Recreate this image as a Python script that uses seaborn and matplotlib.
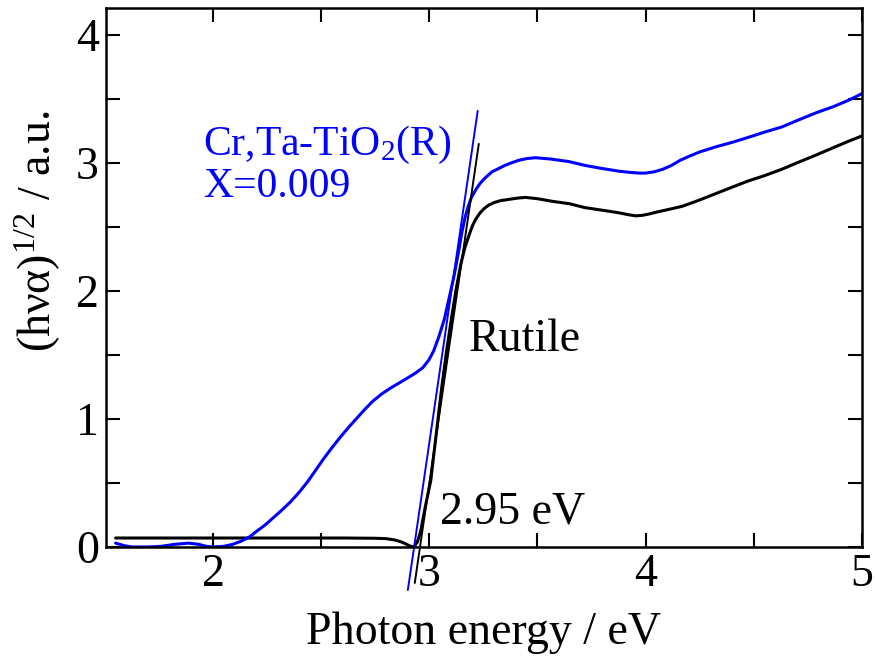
import matplotlib
matplotlib.use("Agg")
import matplotlib.pyplot as plt
import seaborn as sns
import pandas as pd

# ---- data ----
rutile_x = [1.55, 1.8, 2.0, 2.2, 2.4, 2.6, 2.75, 2.80, 2.84, 2.87, 2.89, 2.905, 2.918, 2.93,
            2.945, 2.96, 2.98, 3.007, 3.03, 3.058, 3.08, 3.104, 3.125, 3.146, 3.165, 3.185,
            3.2, 3.215, 3.235, 3.255, 3.275, 3.30, 3.33, 3.37, 3.41, 3.446, 3.5, 3.567,
            3.65, 3.72, 3.8, 3.876, 3.92, 3.955, 3.985, 4.015, 4.05, 4.09, 4.13, 4.168,
            4.21, 4.25, 4.325, 4.4, 4.477, 4.55, 4.63, 4.7, 4.787, 4.87, 4.94, 5.0]
rutile_y = [0.07, 0.07, 0.07, 0.07, 0.07, 0.07, 0.068, 0.065, 0.055, 0.04, 0.025, 0.012,
            0.003, 0.0, 0.04, 0.12, 0.3, 0.52, 0.85, 1.25, 1.53, 1.80, 2.02, 2.21, 2.34,
            2.44, 2.51, 2.56, 2.61, 2.645, 2.67, 2.69, 2.705, 2.715, 2.725, 2.73, 2.72, 2.70,
            2.68, 2.65, 2.63, 2.61, 2.595, 2.586, 2.59, 2.60, 2.615, 2.63, 2.645, 2.66,
            2.685, 2.71, 2.76, 2.81, 2.86, 2.90, 2.95, 3.00, 3.06, 3.12, 3.17, 3.21]

crta_x = [1.55, 1.59, 1.625, 1.70, 1.76, 1.82, 1.888, 1.935, 1.97, 2.0, 2.05, 2.09, 2.13,
          2.17, 2.20, 2.24, 2.28, 2.32, 2.36, 2.40, 2.44, 2.475, 2.51, 2.55, 2.59, 2.63,
          2.67, 2.705, 2.74, 2.78, 2.82, 2.86, 2.90, 2.938, 2.97, 2.998, 3.02, 3.044, 3.07,
          3.09, 3.115, 3.137, 3.15, 3.165, 3.18, 3.195, 3.215, 3.235, 3.26, 3.29, 3.32,
          3.35, 3.38, 3.414, 3.45, 3.49, 3.56, 3.645, 3.72, 3.784, 3.876, 3.93, 3.97, 4.0,
          4.04, 4.08, 4.12, 4.16, 4.2, 4.25, 4.325, 4.4, 4.477, 4.55, 4.63, 4.7, 4.787,
          4.87, 4.94, 5.0]
crta_y = [0.03, 0.01, 0.0, 0.0, 0.005, 0.02, 0.03, 0.02, 0.005, 0.0, 0.005, 0.02, 0.045,
          0.08, 0.12, 0.17, 0.23, 0.29, 0.355, 0.43, 0.515, 0.60, 0.685, 0.775, 0.86, 0.94,
          1.015, 1.08, 1.14, 1.195, 1.24, 1.28, 1.32, 1.36, 1.40, 1.46, 1.53, 1.64, 1.78,
          1.93, 2.12, 2.32, 2.45, 2.57, 2.66, 2.73, 2.79, 2.84, 2.885, 2.93, 2.955, 2.98,
          3.0, 3.02, 3.033, 3.04, 3.03, 3.01, 2.98, 2.96, 2.935, 2.925, 2.92, 2.92, 2.93,
          2.95, 2.98, 3.02, 3.05, 3.085, 3.125, 3.16, 3.20, 3.24, 3.28, 3.33, 3.39, 3.44,
          3.49, 3.54]

# tangent (Tauc) lines
rutile_tan_x = [2.933, 3.229]
rutile_tan_y = [-0.281, 3.148]
crta_tan_x = [2.901, 3.224]
crta_tan_y = [-0.336, 3.406]

x_ticks = [2, 3, 4, 5]
y_ticks = [0, 1, 2, 3, 4]

# ---- style ----
sns.set_style("ticks")
plt.rcParams['font.family'] = ['Liberation Serif', 'DejaVu Serif']
plt.rcParams['mathtext.fontset'] = 'custom'
plt.rcParams['mathtext.rm'] = 'Liberation Serif'
plt.rcParams['mathtext.it'] = 'Liberation Serif'
for k in ['text.color', 'axes.labelcolor', 'xtick.color', 'ytick.color', 'axes.edgecolor']:
    plt.rcParams[k] = 'black'

BLUE = '#0000ff'
BLACK = '#000000'
FS = 33

fig = plt.figure(figsize=(8.75, 6.59), dpi=100)
ax = fig.add_axes([0.121, 0.170, 0.864, 0.818])

df_r = pd.DataFrame({'x': rutile_x, 'y': rutile_y})
df_c = pd.DataFrame({'x': crta_x, 'y': crta_y})
sns.lineplot(data=df_r, x='x', y='y', ax=ax, color=BLACK, lw=2.2, sort=False, estimator=None)
sns.lineplot(data=df_c, x='x', y='y', ax=ax, color=BLUE, lw=2.2, sort=False, estimator=None)

ax.plot(rutile_tan_x, rutile_tan_y, color=BLACK, lw=1.4, clip_on=False)
ax.plot(crta_tan_x, crta_tan_y, color=BLUE, lw=1.4, clip_on=False)

ax.set_xlim(1.505, 5.0)
ax.set_ylim(0, 4.21)
ax.set_xticks(x_ticks)
ax.set_yticks(y_ticks)
ax.set_xticks([2.5, 3.5, 4.5], minor=True)
ax.set_yticks([0.5, 1.5, 2.5, 3.5], minor=True)
ax.tick_params(which='both', direction='in', top=True, right=True, length=10, width=1.5,
               labelsize=FS, pad=5)
for s in ax.spines.values():
    s.set_linewidth(1.8)
    s.set_zorder(5)

ax.set_xlabel('Photon energy / eV', fontsize=FS, labelpad=11)
ax.set_ylabel('(hνα)$^{1/2}$ / a.u.', fontsize=FS)
ax.yaxis.set_label_coords(-0.057, 0.586)

ax.text(1.955, 3.06, r'Cr,Ta-TiO$_2$(R)', color=BLUE, fontsize=30, va='baseline', ha='left')
ax.text(1.955, 2.73, 'X=0.009', color=BLUE, fontsize=30, va='baseline', ha='left')
ax.text(3.18, 1.62, 'Rutile', color=BLACK, fontsize=FS, va='center', ha='left')
ax.text(3.05, 0.27, '2.95 eV', color=BLACK, fontsize=FS, va='center', ha='left')

fig.savefig('out.png', dpi=100)
